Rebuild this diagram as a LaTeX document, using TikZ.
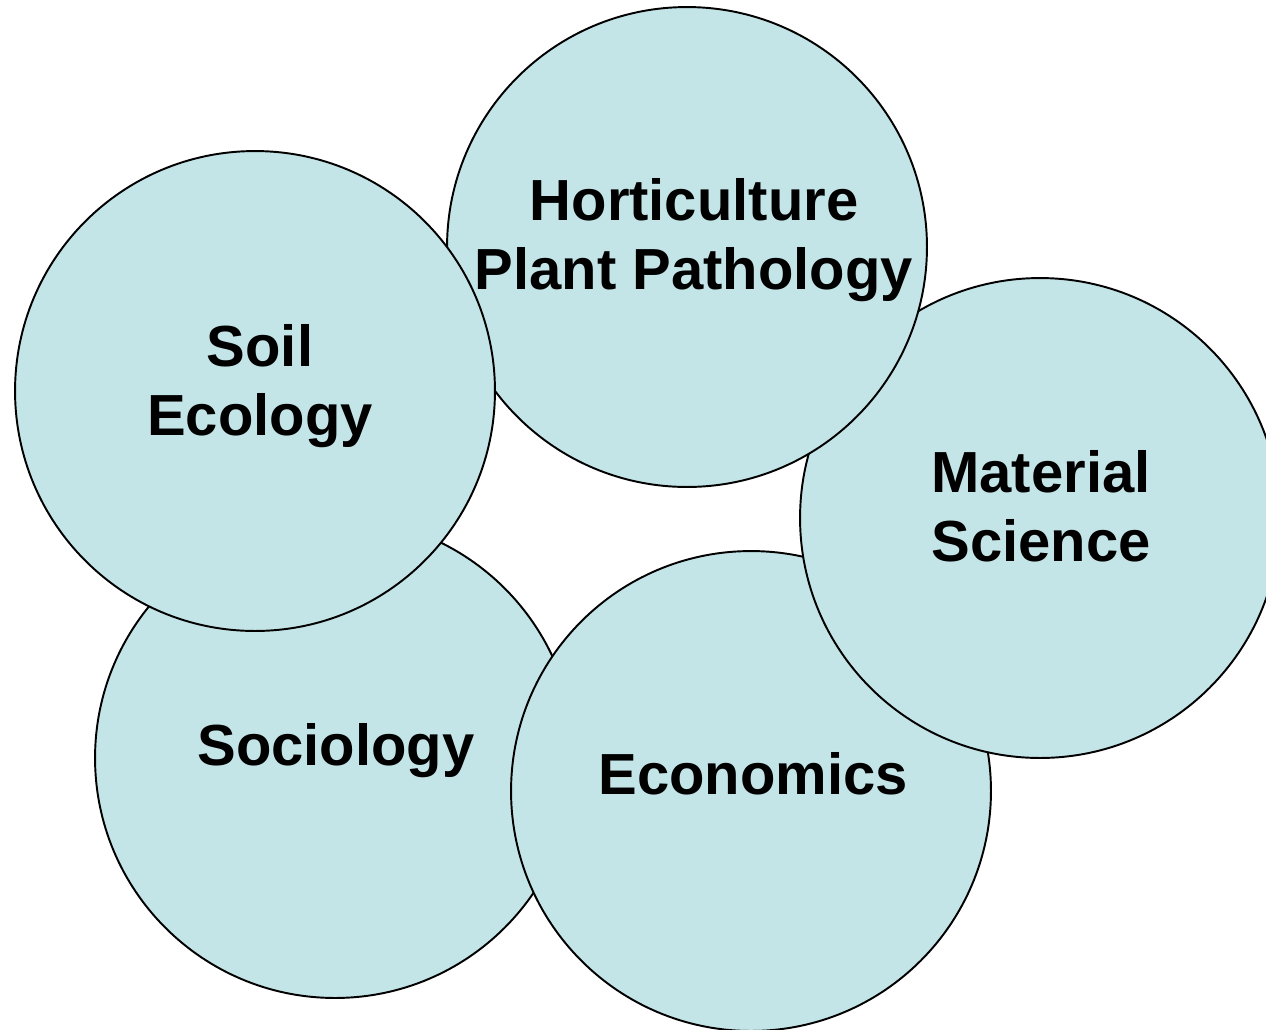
\documentclass[tikz,border=0pt]{standalone}
\usepackage{fontspec}
\setmainfont{Liberation Sans}
\usetikzlibrary{positioning}
\definecolor{fieldblue}{HTML}{C4E5E8}
\tikzset{
  field/.style={
      circle,
      draw,
      line width=1.1pt,
      fill=fieldblue,
      minimum size=9.6cm,
      inner sep=0pt
    },
  fieldname/.style={
      align=center,
      font=\fontsize{33}{39}\selectfont\bfseries
    }
}

\begin{document}
\begin{tikzpicture}[x=0.02cm, y=-0.02cm]
  \useasboundingbox (0,0) rectangle (1266,1029);
  % circles, back to front
  \node[field] (socio) at (335,758) {};
  \node[field] (econ) at (751,791) {};
  \node[field] (mater) at (1040,518) {};
  \node[field] (horti) at (687,247) {};
  \node[field] (soil) at (255,391) {};
  % names
  \node[fieldname] (socioname) at ([shift={(1,-7)}]socio.center) {Sociology};
  \node[fieldname] (econname) at ([shift={(2,-17)}]econ.center) {Economics};
  \node[fieldname] (matername) at ([shift={(1,-12)}]mater.center) {Material\\Science};
  \node[fieldname] (hortiname) at ([shift={(7,-7)}]horti.center) {Horticulture\\Plant Pathology};
  \node[fieldname] (soilname) at ([shift={(5,-5)}]soil.center) {Soil\\Ecology};
\end{tikzpicture}
\end{document}
